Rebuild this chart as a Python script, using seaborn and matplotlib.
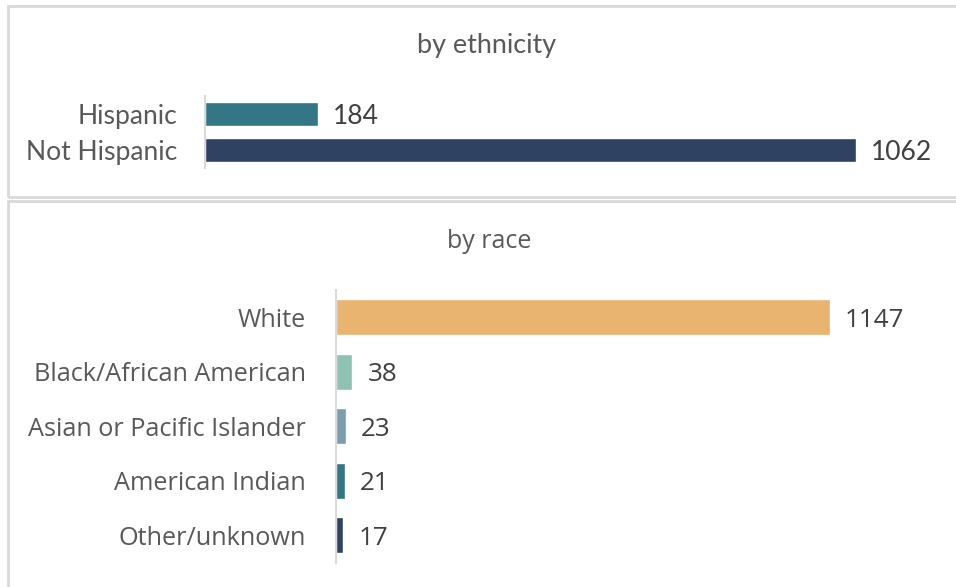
import matplotlib
matplotlib.use("Agg")
import matplotlib.pyplot as plt
from matplotlib.patches import Rectangle
import seaborn as sns
import pandas as pd

# Ethnicity breakdown
eth_labels = ["Hispanic", "Not Hispanic"]
eth_values = [184, 1062]
eth_colors = ["#337685", "#304262"]

# Race breakdown
race_labels = ["White", "Black/African American", "Asian or Pacific Islander",
               "American Indian", "Other/unknown"]
race_values = [1147, 38, 23, 21, 17]
race_colors = ["#E9B46F", "#8EC3B3", "#7A9DAF", "#337685", "#304262"]

W, H = 956, 587
DPI = 100
PT = 0.72  # points per pixel at 100 dpi
sns.set_theme(style="white")
plt.rcParams["font.family"] = ["Open Sans", "DejaVu Sans"]

fig = plt.figure(figsize=(W / DPI, H / DPI), dpi=DPI)
fig.patch.set_facecolor("white")

LABEL = "#595959"
VALUE = "#404040"
BORDER = "#d9d9d9"


def px_axes(left, top, width, height):
    return fig.add_axes([left / W, 1 - (top + height) / H, width / W, height / H])


# panel frames
for (x0, y0, x1, y1) in [(8, 6, 970, 197), (8, 201, 970, 600)]:
    fig.add_artist(Rectangle((x0 / W, 1 - y1 / H), (x1 - x0) / W, (y1 - y0) / H,
                             transform=fig.transFigure, fill=False,
                             edgecolor=BORDER, linewidth=2.0, clip_on=False))


def draw_panel(ax, labels, values, colors, bar_width, label_pad_px, label_px,
               value_px, family):
    df = pd.DataFrame({"label": labels, "value": values})
    sns.barplot(data=df, x="value", y="label", hue="label", palette=colors,
                order=labels, hue_order=labels, orient="h", width=bar_width,
                legend=False, ax=ax, saturation=1)
    ax.set_xlim(0, max(values))
    ax.set_ylim(len(labels) - 0.5, -0.5)
    ax.set_xlabel("")
    ax.set_ylabel("")
    ax.set_xticks([])
    for s in ["top", "right", "bottom"]:
        ax.spines[s].set_visible(False)
    ax.spines["left"].set_color(BORDER)
    ax.spines["left"].set_linewidth(1.5)
    ax.tick_params(axis="y", length=0, pad=label_pad_px * PT)
    for t in ax.get_yticklabels():
        t.set_fontsize(label_px * PT)
        t.set_color(LABEL)
        t.set_fontfamily(family)
    ax.patch.set_alpha(0)
    for c in ax.containers:
        for txt in ax.bar_label(c, fmt="%d", padding=15 * PT, color=VALUE,
                                fontsize=value_px * PT, clip_on=False):
            txt.set_fontfamily(family)
            # nudge value labels slightly down so digits sit on the bar's centre
            txt.xyann = (15 * PT, -3 * PT)


ax1 = px_axes(205, 96, 651, 72)
draw_panel(ax1, eth_labels, eth_values, eth_colors, 0.67, 28, 26.5, 26.5, "Lato")
fig.text(487 / W, 1 - 46 / H, "by ethnicity", ha="center", va="center",
         fontsize=27 * PT, color=LABEL, family="Lato")

ax2 = px_axes(336, 290, 494, 272.5)
draw_panel(ax2, race_labels, race_values, race_colors, 0.66, 30, 25.3, 26, "Open Sans")
fig.text(489 / W, 1 - 241 / H, "by race", ha="center", va="center",
         fontsize=25 * PT, color=LABEL, family="Open Sans")

fig.savefig("out.png", dpi=DPI, facecolor="white")
